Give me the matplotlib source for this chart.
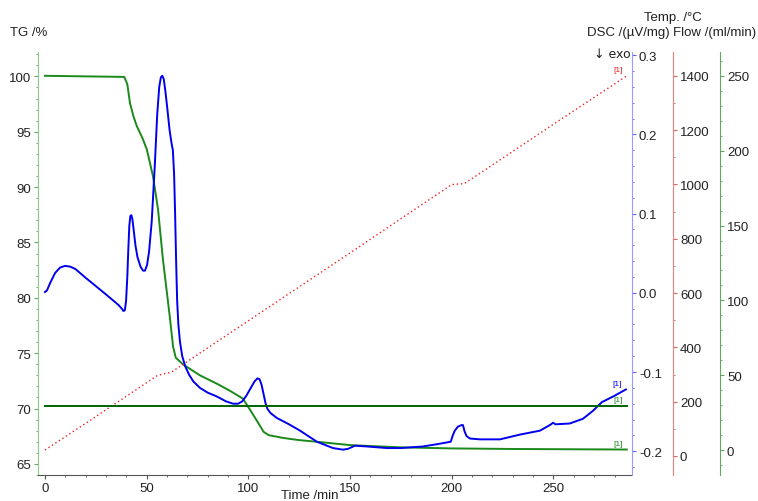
import matplotlib.pyplot as plt
import numpy as np
from matplotlib.ticker import MultipleLocator

plt.rcParams["font.family"] = ["Liberation Sans", "DejaVu Sans"]

# Données
t_tg = [0, 20, 39, 40.5, 41.8, 43.5, 45.2, 48, 50.1, 53.1, 55.6, 58, 61.5, 63, 64.3,
        67.8, 76.2, 85, 91, 97.3, 100.8, 104.2, 107.5, 110, 117, 125, 133.7, 150,
        174.5, 200, 230, 286]
tg = [100.05, 100.0, 99.95, 99.3, 97.6, 96.4, 95.5, 94.4, 93.4, 91.0, 88.0, 83.5, 78.1,
      75.6, 74.6, 74.0, 73.0, 72.2, 71.6, 70.9, 69.9, 68.9, 67.9, 67.6, 67.35, 67.15,
      67.0, 66.7, 66.5, 66.4, 66.35, 66.3]

t_dsc = [0, 1, 2.5, 5, 7.5, 10, 12.5, 15, 20, 30, 36, 37.8, 38.6, 39.3, 39.9, 40.5,
         41.0, 41.5, 42.0, 42.5, 43.0, 43.6, 44.5, 45.5, 47, 48.2, 49.2, 50.2, 51.2,
         52.5, 54, 55.2, 56.2, 57.0, 57.7, 58.4, 59.2, 60.2, 61.3, 62.3, 62.9, 63.5,
         64.0, 64.5, 65.0, 65.6, 66.4, 67.5, 69, 71, 73, 76.2, 80, 84.6, 89, 92.5, 95,
         97, 99, 101, 103, 104.5, 105.5, 106.5, 107.5, 108.5, 109.5, 111, 114, 120,
         125.4, 133.7, 141.6, 146.5, 149, 152.4, 158.3, 168.1, 175, 185.8, 193, 199.5,
         200.5, 201.5, 203, 204.8, 205.5, 206.3, 207.3, 209, 213.9, 223.7, 233.5, 243.4,
         247.5, 248.8, 249.8, 251, 258, 264.5, 269.4, 273.8, 280, 285.6]
dsc = [0.001, 0.003, 0.012, 0.025, 0.032, 0.034, 0.033, 0.030, 0.019, -0.002, -0.015,
       -0.020, -0.023, -0.022, -0.010, 0.020, 0.055, 0.085, 0.097, 0.098, 0.093, 0.080,
       0.060, 0.045, 0.033, 0.028, 0.028, 0.035, 0.052, 0.090, 0.160, 0.225, 0.260,
       0.272, 0.274, 0.270, 0.255, 0.232, 0.205, 0.188, 0.180, 0.150, 0.100, 0.040,
       -0.010, -0.040, -0.062, -0.080, -0.093, -0.104, -0.112, -0.120, -0.126, -0.131,
       -0.137, -0.140, -0.140, -0.137, -0.130, -0.121, -0.112, -0.108, -0.109, -0.116,
       -0.128, -0.140, -0.147, -0.152, -0.158, -0.166, -0.174, -0.188, -0.196, -0.198,
       -0.197, -0.193, -0.194, -0.196, -0.196, -0.194, -0.191, -0.188, -0.180, -0.174,
       -0.169, -0.167, -0.167, -0.175, -0.181, -0.184, -0.185, -0.185, -0.179, -0.174,
       -0.168, -0.166, -0.164, -0.166, -0.165, -0.159, -0.149, -0.138, -0.130, -0.122]

t_temp = [0, 20, 40, 55, 58, 62, 100, 150, 200, 206, 210, 250, 286]
temp = [22, 120, 220, 295, 302, 308, 498, 748, 1000, 1003, 1022, 1222, 1400]

t_flow = [0, 286]
flow = [29.5, 29.5]

fig = plt.figure(figsize=(7.58, 5.02), dpi=100)
ax = fig.add_axes([38/758, 26/502, 594/758, 423/502])
ax2 = ax.twinx()
ax3 = ax.twinx()
ax4 = ax.twinx()

ax.plot(t_tg, tg, color="#1a8a1a", lw=1.4)
ax2.plot(t_dsc, dsc, color="#0000ee", lw=1.4)
ax3.plot(t_temp, temp, color="#ee2020", lw=1.0, linestyle=(0, (1, 2)))
ax4.plot(t_flow, flow, color="#006400", lw=1.4)

ax.set_xlim(-3.4, 288.6)
ax.set_ylim(64.0, 102.2)
ax2.set_ylim(-0.230, 0.304)
ax3.set_ylim(-70, 1488)
ax4.set_ylim(-16.7, 266)

# Axes et graduations
ax.xaxis.set_major_locator(MultipleLocator(50))
ax.xaxis.set_minor_locator(MultipleLocator(10))
ax.yaxis.set_major_locator(MultipleLocator(5))
ax.yaxis.set_minor_locator(MultipleLocator(1))
ax2.yaxis.set_major_locator(MultipleLocator(0.1))
ax2.yaxis.set_minor_locator(MultipleLocator(0.02))
ax3.yaxis.set_major_locator(MultipleLocator(200))
ax3.yaxis.set_minor_locator(MultipleLocator(100))
ax4.yaxis.set_major_locator(MultipleLocator(50))
ax4.yaxis.set_minor_locator(MultipleLocator(10))

ax2.yaxis.set_major_formatter(plt.FuncFormatter(lambda v, p: f"{v:.1f}"))

for a in (ax, ax2, ax3, ax4):
    a.spines["top"].set_visible(False)
ax.spines["right"].set_visible(False)
for a in (ax2, ax3, ax4):
    a.spines["left"].set_visible(False)
    a.spines["bottom"].set_visible(False)

# décalage en points (1 px = 0.72 pt à 100 dpi)
ax.spines["left"].set_color("#8cc88c")
ax.spines["bottom"].set_color("#555555")
ax2.spines["right"].set_color("#9a9aff")
ax3.spines["right"].set_color("#e88080")
ax3.spines["right"].set_position(("outward", 41 * 0.72))
ax4.spines["right"].set_color("#60a860")
ax4.spines["right"].set_position(("outward", 88 * 0.72))

ax.tick_params(axis="y", which="both", colors="#60a860", labelcolor="#222222", labelsize=9.5)
ax.tick_params(axis="x", which="both", colors="#555555", labelcolor="#222222", labelsize=9.5)
ax2.tick_params(axis="y", which="both", colors="#6060ff", labelcolor="#222222", labelsize=9.5)
ax3.tick_params(axis="y", which="both", colors="#e06060", labelcolor="#222222", labelsize=9.5)
ax4.tick_params(axis="y", which="both", colors="#60a860", labelcolor="#222222", labelsize=9.5)
for a in (ax, ax2, ax3, ax4):
    a.tick_params(which="major", length=3, pad=2)
    a.tick_params(which="minor", length=1.5)

# Titres des axes
fig.text(10/758, 1 - 33/502, "TG /%", fontsize=9.5, va="center", ha="left", color="#222222")
fig.text(670/758, 1 - 33/502, "DSC /(µV/mg)", fontsize=9.5, va="center", ha="right", color="#222222")
fig.text(673/758, 1 - 18/502, "Temp. /°C", fontsize=9.5, va="center", ha="center", color="#222222")
fig.text(756/758, 1 - 33/502, "Flow /(ml/min)", fontsize=9.5, va="center", ha="right", color="#222222")
fig.text(612/758, 1 - 55/502, "↓ exo", fontsize=9, va="center", ha="center", color="#222222",
         family=["DejaVu Sans"])
fig.text(310/758, 1 - 496/502, "Time /min", fontsize=9.5, va="center", ha="center", color="#222222")

# Étiquettes [1] en fin de courbe
ax.annotate("[1]", (t_tg[-1], tg[-1]), xytext=(-3, 2), textcoords="offset points",
            fontsize=6, color="#1a8a1a", ha="right", va="bottom")
ax2.annotate("[1]", (t_dsc[-1], dsc[-1]), xytext=(-3, 2), textcoords="offset points",
             fontsize=6, color="#0000ee", ha="right", va="bottom")
ax3.annotate("[1]", (t_temp[-1], temp[-1]), xytext=(-3, 2), textcoords="offset points",
             fontsize=6, color="#ee2020", ha="right", va="bottom")
ax4.annotate("[1]", (t_flow[-1], flow[-1]), xytext=(-3, 2), textcoords="offset points",
             fontsize=6, color="#1a8a1a", ha="right", va="bottom")

fig.savefig("out.png", dpi=100)
